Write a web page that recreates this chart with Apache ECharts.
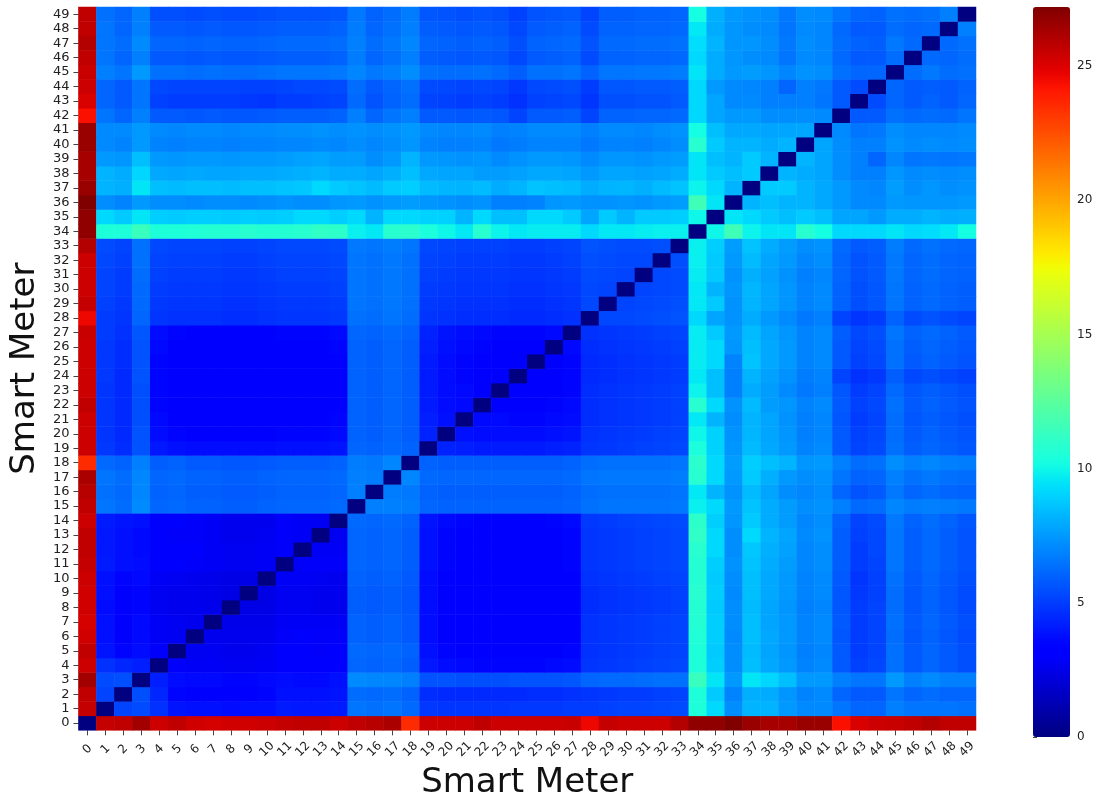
<!DOCTYPE html>
<html>
<head>
<meta charset="utf-8">
<script src="https://cdn.jsdelivr.net/npm/echarts@6/dist/echarts.min.js"></script>
<style>
  html, body { margin: 0; padding: 0; background: #ffffff; }
  #chart { width: 1102px; height: 805px; }
</style>
</head>
<body>
<div id="chart"></div>
<script>
// Meter ids used on both axes
const meterLabels = ['0','1','2','3','4','5','6','7','8','9','10','11','12','13','14','15','16','17','18','19',
  '20','21','22','23','24','25','26','27','28','29','30','31','32','33','34','35','36','37','38','39',
  '40','41','42','43','44','45','46','47','48','49'];

// Colour bar tick values
const colorbarTicks = [0, 5, 10, 15, 20, 25];
const colorMin = 0;
const colorMax = 27.2;

// Pairwise distances between meters, lower triangle: row i holds d(i, 0..i-1)
const lowerRows = [
  [],
  [25.6],
  [25.7, 5.2],
  [26.4, 5.4, 5.5],
  [25.4, 4.7, 4.4, 4.2],
  [25.7, 3.9, 3.5, 3.7, 2.9],
  [25.3, 3.8, 3.4, 3.6, 2.8, 2.7],
  [25.2, 3.8, 3.4, 3.6, 2.8, 2.7, 2.6],
  [25.3, 3.7, 3.4, 3.5, 2.7, 2.6, 2.6, 2.5],
  [25.3, 3.8, 3.4, 3.5, 2.7, 2.6, 2.6, 2.5, 2.4],
  [25.4, 3.8, 3.5, 3.6, 2.8, 2.7, 2.6, 2.5, 2.4, 2.4],
  [25.6, 4.1, 3.8, 3.7, 3.1, 3.0, 2.9, 2.8, 2.7, 2.7, 2.8],
  [25.7, 4.0, 3.8, 3.6, 3.1, 3.0, 3.0, 2.8, 2.7, 2.7, 2.8, 2.9],
  [25.7, 4.0, 3.8, 3.6, 3.0, 2.9, 2.9, 2.8, 2.6, 2.6, 2.7, 2.9, 2.8],
  [25.4, 4.1, 3.9, 3.8, 3.1, 3.0, 2.9, 2.8, 2.6, 2.6, 2.6, 2.9, 2.8, 2.7],
  [25.7, 6.5, 6.3, 7.1, 6.1, 6.2, 6.0, 6.0, 5.9, 5.9, 6.0, 6.1, 6.1, 6.1, 6.2],
  [25.9, 6.4, 6.2, 7.0, 6.0, 6.1, 5.9, 5.9, 5.8, 5.8, 5.9, 6.0, 6.0, 6.0, 6.1, 6.8],
  [26.2, 6.5, 6.3, 7.0, 6.1, 6.2, 6.0, 6.0, 5.9, 5.9, 6.0, 6.1, 6.1, 6.1, 6.2, 6.8, 6.7],
  [23.5, 6.2, 6.0, 6.8, 5.9, 6.0, 5.8, 5.8, 5.7, 5.7, 5.8, 5.9, 5.9, 5.9, 6.0, 6.7, 6.6, 7.0],
  [25.4, 4.9, 4.6, 5.6, 4.0, 3.8, 3.7, 3.7, 3.7, 3.7, 3.7, 3.8, 3.8, 3.8, 3.9, 6.1, 6.0, 6.2, 6.0],
  [25.4, 4.8, 4.5, 5.6, 3.7, 3.5, 3.4, 3.4, 3.4, 3.4, 3.4, 3.5, 3.5, 3.5, 3.6, 6.0, 5.9, 6.1, 5.9, 4.3],
  [25.4, 4.8, 4.5, 5.5, 3.6, 3.4, 3.3, 3.3, 3.3, 3.3, 3.3, 3.4, 3.4, 3.4, 3.5, 6.0, 5.9, 6.1, 5.9, 4.2, 3.8],
  [25.7, 4.8, 4.5, 5.5, 3.5, 3.3, 3.1, 3.1, 3.1, 3.1, 3.1, 3.2, 3.2, 3.3, 3.4, 6.0, 5.9, 6.1, 5.9, 4.1, 3.7, 3.6],
  [25.4, 4.8, 4.5, 5.5, 3.5, 3.3, 3.1, 3.1, 3.1, 3.1, 3.1, 3.2, 3.2, 3.3, 3.4, 6.0, 5.9, 6.1, 5.9, 4.1, 3.7, 3.6, 3.4],
  [25.4, 4.9, 4.5, 5.6, 3.5, 3.3, 3.1, 3.1, 3.0, 3.0, 3.1, 3.2, 3.2, 3.3, 3.4, 6.0, 5.9, 6.1, 5.9, 4.1, 3.7, 3.5, 3.4, 3.3],
  [25.4, 4.9, 4.6, 5.6, 3.5, 3.3, 3.1, 3.1, 3.0, 3.0, 3.1, 3.2, 3.2, 3.3, 3.4, 6.0, 5.9, 6.1, 5.9, 4.1, 3.7, 3.5, 3.4, 3.3, 3.3],
  [25.4, 4.9, 4.6, 5.6, 3.6, 3.4, 3.3, 3.3, 3.2, 3.2, 3.3, 3.4, 3.4, 3.4, 3.5, 6.0, 5.9, 6.1, 5.9, 4.2, 3.8, 3.6, 3.5, 3.4, 3.4, 3.4],
  [25.5, 5.0, 4.7, 5.7, 3.7, 3.5, 3.4, 3.4, 3.3, 3.3, 3.4, 3.5, 3.5, 3.5, 3.6, 6.1, 6.0, 6.2, 6.0, 4.3, 3.9, 3.7, 3.6, 3.5, 3.5, 3.5, 3.6],
  [24.6, 5.0, 4.8, 6.1, 4.8, 4.7, 4.7, 4.7, 4.6, 4.6, 4.7, 4.8, 4.8, 4.8, 4.9, 6.4, 6.3, 6.5, 6.3, 4.8, 4.7, 4.6, 4.6, 4.6, 4.5, 4.5, 4.6, 4.7],
  [25.6, 5.1, 4.9, 6.2, 4.9, 4.8, 4.8, 4.8, 4.7, 4.7, 4.8, 4.9, 4.9, 4.9, 5.0, 6.5, 6.4, 6.6, 6.4, 4.9, 4.8, 4.7, 4.7, 4.7, 4.6, 4.6, 4.7, 4.8, 5.3],
  [25.4, 5.2, 5.0, 6.2, 5.0, 4.9, 4.9, 4.9, 4.8, 4.8, 4.9, 5.0, 5.0, 5.0, 5.1, 6.5, 6.4, 6.6, 6.4, 5.0, 4.9, 4.8, 4.8, 4.8, 4.7, 4.7, 4.8, 4.9, 5.3, 5.2],
  [25.4, 5.2, 5.0, 6.3, 5.1, 5.0, 5.0, 5.0, 4.9, 4.9, 5.0, 5.1, 5.1, 5.1, 5.2, 6.5, 6.4, 6.6, 6.4, 5.1, 5.0, 4.9, 4.9, 4.9, 4.8, 4.8, 4.9, 5.0, 5.4, 5.3, 5.2],
  [25.4, 5.3, 5.1, 6.4, 5.2, 5.1, 5.1, 5.1, 5.0, 5.0, 5.1, 5.2, 5.2, 5.2, 5.3, 6.5, 6.4, 6.6, 6.4, 5.2, 5.1, 5.0, 5.0, 5.0, 4.9, 4.9, 5.0, 5.1, 5.5, 5.4, 5.3, 5.3],
  [26.0, 5.4, 5.2, 6.4, 5.3, 5.2, 5.2, 5.2, 5.1, 5.1, 5.2, 5.3, 5.3, 5.3, 5.4, 6.6, 6.5, 6.7, 6.5, 5.3, 5.2, 5.1, 5.1, 5.1, 5.0, 5.0, 5.1, 5.2, 5.6, 5.5, 5.4, 5.4, 5.5],
  [26.8, 10.5, 10.5, 11.4, 10.5, 10.5, 10.6, 10.7, 10.7, 10.8, 10.7, 10.7, 10.8, 11.1, 11.0, 9.8, 9.6, 10.8, 10.9, 10.4, 10.0, 9.6, 10.8, 9.9, 9.6, 9.7, 9.7, 9.7, 9.2, 9.6, 9.6, 9.7, 9.8, 9.8],
  [26.8, 9.2, 8.8, 9.5, 8.9, 8.8, 8.9, 8.9, 8.8, 8.9, 8.8, 8.9, 9.2, 9.2, 8.9, 9.2, 8.2, 9.2, 9.2, 9.0, 9.0, 8.2, 9.2, 8.5, 8.5, 9.2, 9.2, 8.8, 7.8, 8.8, 8.2, 8.8, 8.8, 8.9, 10.0],
  [27.2, 7.2, 6.9, 7.5, 7.2, 7.2, 7.1, 7.2, 7.2, 7.1, 7.2, 7.3, 7.2, 7.2, 7.4, 7.5, 7.3, 7.5, 7.6, 7.4, 7.3, 7.2, 7.3, 6.8, 6.8, 6.9, 7.4, 7.5, 7.3, 7.3, 7.4, 7.3, 7.5, 7.6, 11.6, 9.5],
  [26.6, 8.2, 8.1, 9.5, 8.5, 8.4, 8.5, 8.5, 8.4, 8.5, 8.5, 8.6, 8.7, 9.2, 8.8, 8.6, 8.4, 8.8, 8.9, 8.4, 8.3, 8.2, 8.4, 8.0, 8.2, 8.6, 8.5, 8.4, 8.0, 8.2, 8.3, 8.1, 8.4, 8.6, 9.9, 9.2, 8.2],
  [26.3, 8.2, 8.0, 9.1, 7.9, 7.8, 7.9, 7.8, 7.8, 7.9, 7.9, 8.0, 8.1, 8.2, 8.0, 8.0, 7.8, 8.1, 8.5, 7.9, 7.8, 7.8, 7.6, 7.6, 7.7, 7.9, 7.9, 7.8, 7.5, 7.8, 7.8, 7.7, 7.8, 8.0, 9.5, 8.8, 8.5, 8.8],
  [26.3, 7.5, 7.4, 8.5, 7.5, 7.4, 7.5, 7.5, 7.4, 7.5, 7.5, 7.6, 7.7, 7.8, 7.6, 7.6, 7.2, 7.5, 8.2, 7.5, 7.4, 7.3, 7.4, 7.1, 7.3, 7.5, 7.5, 7.4, 7.1, 7.4, 7.4, 7.3, 7.5, 7.6, 9.5, 8.5, 8.2, 8.8, 8.2],
  [26.6, 7.1, 6.9, 7.5, 6.9, 6.8, 6.9, 6.9, 6.8, 6.9, 6.9, 7.0, 7.0, 7.1, 7.0, 7.2, 7.0, 7.2, 7.4, 6.9, 6.8, 6.8, 6.9, 6.6, 6.7, 6.9, 6.9, 6.9, 6.6, 6.9, 6.9, 6.8, 7.0, 7.2, 10.8, 8.8, 8.2, 8.2, 8.0, 8.2],
  [26.6, 7.1, 7.1, 7.5, 7.1, 7.0, 7.1, 7.1, 7.0, 7.1, 7.1, 7.2, 7.2, 7.3, 7.2, 7.3, 7.2, 7.3, 7.5, 7.1, 7.0, 7.0, 7.1, 6.8, 6.9, 7.1, 7.1, 7.1, 6.8, 7.1, 7.1, 7.0, 7.2, 7.3, 10.2, 8.5, 7.9, 7.9, 7.8, 7.8, 7.8],
  [24.3, 6.5, 6.1, 6.8, 5.8, 5.8, 5.7, 5.8, 5.7, 5.7, 5.8, 5.9, 5.9, 5.9, 6.0, 6.8, 6.1, 6.5, 6.8, 5.8, 5.8, 5.7, 5.8, 5.7, 5.2, 5.8, 5.8, 5.9, 5.2, 6.0, 6.0, 6.1, 6.1, 6.2, 9.2, 7.8, 7.5, 7.5, 7.2, 7.2, 7.2, 7.1],
  [25.1, 6.1, 5.8, 6.5, 5.1, 5.0, 5.0, 5.0, 5.0, 4.9, 4.8, 5.0, 5.0, 5.1, 5.2, 6.2, 5.6, 6.0, 6.3, 5.2, 5.1, 5.0, 5.1, 5.0, 4.7, 5.1, 5.2, 5.3, 4.8, 5.5, 5.5, 5.6, 5.6, 5.8, 9.2, 7.8, 7.1, 7.1, 6.8, 6.8, 6.8, 6.5, 5.8],
  [25.4, 6.1, 5.8, 6.5, 5.3, 5.2, 5.2, 5.2, 5.2, 5.1, 5.1, 5.2, 5.3, 5.3, 5.4, 6.3, 5.8, 6.1, 6.4, 5.4, 5.3, 5.2, 5.3, 5.2, 4.9, 5.3, 5.4, 5.5, 5.0, 5.7, 5.7, 5.8, 5.8, 5.9, 9.2, 7.5, 7.1, 7.0, 6.8, 6.1, 6.8, 6.6, 5.8, 5.4],
  [25.5, 6.8, 6.5, 7.5, 6.4, 6.4, 6.3, 6.4, 6.3, 6.3, 6.4, 6.5, 6.5, 6.5, 6.6, 7.0, 6.6, 6.8, 7.2, 6.4, 6.3, 6.3, 6.4, 6.2, 5.9, 6.4, 6.4, 6.5, 6.0, 6.5, 6.5, 6.6, 6.6, 6.7, 9.5, 8.0, 7.5, 7.6, 7.4, 7.0, 7.3, 7.2, 6.4, 6.1, 6.1],
  [25.7, 6.5, 6.1, 6.8, 5.8, 5.8, 5.7, 5.8, 5.7, 5.7, 5.8, 5.9, 5.9, 5.9, 6.0, 6.7, 6.1, 6.4, 6.8, 5.9, 5.8, 5.7, 5.8, 5.7, 5.3, 5.8, 5.9, 6.0, 5.4, 6.0, 6.0, 6.1, 6.1, 6.2, 9.2, 8.0, 7.4, 7.2, 7.1, 6.5, 7.1, 7.0, 6.2, 5.8, 5.8, 6.3],
  [26.0, 6.5, 6.3, 7.1, 6.1, 6.1, 6.0, 6.1, 6.0, 6.0, 6.1, 6.2, 6.2, 6.2, 6.3, 6.8, 6.3, 6.6, 7.0, 6.1, 6.0, 5.9, 6.0, 5.9, 5.5, 6.0, 6.1, 6.2, 5.6, 6.2, 6.2, 6.3, 6.3, 6.4, 9.3, 8.2, 7.4, 7.4, 7.2, 6.6, 7.2, 7.0, 6.3, 6.0, 5.9, 6.6, 6.2],
  [25.7, 6.5, 6.1, 6.8, 5.8, 5.8, 5.7, 5.8, 5.7, 5.7, 5.8, 5.9, 5.9, 5.9, 6.0, 6.7, 6.1, 6.4, 6.8, 5.9, 5.8, 5.7, 5.8, 5.7, 5.3, 5.8, 5.9, 6.0, 5.4, 6.0, 6.0, 6.1, 6.1, 6.2, 9.6, 8.0, 7.4, 7.2, 7.1, 6.5, 7.1, 7.0, 6.2, 5.8, 5.8, 6.3, 6.1, 6.2],
  [25.7, 6.4, 6.1, 6.8, 5.5, 5.5, 5.4, 5.5, 5.4, 5.4, 5.5, 5.6, 5.6, 5.6, 5.7, 6.6, 6.0, 6.3, 6.7, 5.7, 5.6, 5.5, 5.6, 5.5, 5.1, 5.6, 5.7, 5.8, 5.2, 5.9, 5.9, 6.0, 6.0, 6.1, 10.2, 8.1, 7.5, 7.3, 7.2, 6.6, 7.2, 7.1, 6.5, 6.1, 6.0, 6.4, 6.3, 6.4, 6.8]
];

// Full symmetric matrix as heatmap cells [col, row, value]
const cells = [];
for (let i = 0; i < meterLabels.length; i++) {
  for (let j = 0; j < meterLabels.length; j++) {
    let v;
    if (i === j) v = 0;
    else if (j < i) v = lowerRows[i][j];
    else v = lowerRows[j][i];
    cells.push([j, i, v]);
  }
}

// Jet colour map (piecewise-linear segments)
const jetSegments = {
  r: [[0, 0], [0.35, 0], [0.66, 1], [0.89, 1], [1, 0.5]],
  g: [[0, 0], [0.125, 0], [0.375, 1], [0.64, 1], [0.91, 0], [1, 0]],
  b: [[0, 0.5], [0.11, 1], [0.34, 1], [0.65, 0], [1, 0]]
};
function segValue(seg, t) {
  for (let k = 1; k < seg.length; k++) {
    if (t <= seg[k][0]) {
      const [x0, y0] = seg[k - 1];
      const [x1, y1] = seg[k];
      return y0 + (y1 - y0) * (t - x0) / (x1 - x0);
    }
  }
  return seg[seg.length - 1][1];
}
const jetColors = [];
for (let k = 0; k <= 128; k++) {
  const t = k / 128;
  const to255 = c => Math.round(c * 255);
  jetColors.push('rgb(' + to255(segValue(jetSegments.r, t)) + ',' +
    to255(segValue(jetSegments.g, t)) + ',' + to255(segValue(jetSegments.b, t)) + ')');
}

const FONT = 'DejaVu Sans';
const chart = echarts.init(document.getElementById('chart'), null, { renderer: 'canvas' });

chart.setOption({
  backgroundColor: '#ffffff',
  animation: false,
  grid: [
    { left: 77, top: 7, width: 899, height: 730 },
    { left: 1033, top: 7, width: 37, height: 730 }
  ],
  xAxis: [
    {
      type: 'category',
      data: meterLabels,
      gridIndex: 0,
      position: 'bottom',
      splitArea: { show: false },
      axisLine: { show: false },
      axisTick: { show: true, alignWithLabel: true, length: 5, lineStyle: { color: '#444', width: 1 } },
      axisLabel: {
        interval: 0, rotate: 45, align: 'center', verticalAlign: 'middle', margin: 19,
        fontFamily: FONT, fontSize: 12, color: '#222'
      },
      name: 'Smart Meter',
      nameLocation: 'middle',
      nameGap: 34,
      nameTextStyle: { fontFamily: FONT, fontSize: 34, color: '#111', verticalAlign: 'top' }
    },
    { type: 'value', gridIndex: 1, min: 0, max: 1, show: false }
  ],
  yAxis: [
    {
      type: 'category',
      data: meterLabels,
      gridIndex: 0,
      splitArea: { show: false },
      axisLine: { show: false },
      axisTick: { show: true, alignWithLabel: true, length: 5, lineStyle: { color: '#444', width: 1 } },
      axisLabel: { interval: 0, margin: 9, fontFamily: FONT, fontSize: 13, color: '#222' },
      name: 'Smart Meter',
      nameLocation: 'middle',
      nameGap: 16,
      nameRotate: 90,
      nameTextStyle: { fontFamily: FONT, fontSize: 34, color: '#111' }
    },
    {
      type: 'value',
      gridIndex: 1,
      position: 'right',
      min: colorMin,
      max: colorMax,
      splitLine: { show: false },
      axisLine: { show: false },
      axisTick: { show: true, length: 4, customValues: colorbarTicks, lineStyle: { color: '#444' } },
      axisLabel: { customValues: colorbarTicks, margin: 7, fontFamily: FONT, fontSize: 12, color: '#222' }
    }
  ],
  visualMap: {
    type: 'continuous',
    min: colorMin,
    max: colorMax,
    calculable: false,
    hoverLink: false,
    seriesIndex: 0,
    orient: 'vertical',
    left: 1033,
    top: 7,
    padding: 0,
    itemWidth: 37,
    itemHeight: 730,
    text: null,
    showLabel: false,
    inRange: { color: jetColors }
  },
  series: [
    {
      type: 'heatmap',
      xAxisIndex: 0,
      yAxisIndex: 0,
      data: cells,
      progressive: 0,
      itemStyle: { borderWidth: 0 },
      emphasis: { disabled: true }
    },
    {
      type: 'scatter',
      xAxisIndex: 1,
      yAxisIndex: 1,
      data: [],
      silent: true
    }
  ]
});
</script>
</body>
</html>
